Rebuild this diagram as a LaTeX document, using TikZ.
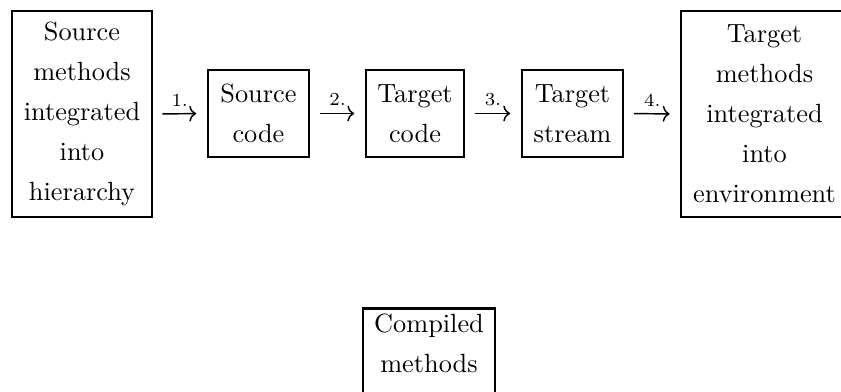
\documentclass[tikz,border=0pt]{standalone}
\usetikzlibrary{arrows.meta}
\begin{document}
\begin{tikzpicture}[x=0.38pt,y=-0.38pt,
  txt/.style={font=\fontsize{10}{15.2}\selectfont, align=center, inner sep=2pt},
  bigbox/.style={txt, draw, line width=0.6pt, minimum height=78.3pt},
  smallbox/.style={txt, draw, line width=1pt, minimum height=33.1pt},
  arr/.style={-{To[length=2.6pt,width=6pt]}, line width=0.55pt, shorten <=3.6pt, shorten >=4pt},
  lab/.style={font=\fontsize{7}{8}\selectfont, inner sep=1pt, above=1.6pt}]
\useasboundingbox (0,0) rectangle (841,391);
\clip (0,0) rectangle (841,391);
\node[bigbox, minimum width=53.2pt] (src) at (82,114) {Source\\methods\\integrated\\into\\hierarchy};
\node[smallbox, minimum width=38.4pt] (scode) at (258.5,113.5) {Source\\code};
\node[smallbox, minimum width=37.2pt] (tcode) at (415,113.5) {Target\\code};
\node[smallbox, minimum width=38.4pt] (tstream) at (572.5,113.5) {Target\\stream};
\node[bigbox, minimum width=63.5pt] (tgt) at (764.5,114) {Target\\methods\\integrated\\into\\environment};
\node[smallbox, anchor=north, minimum width=50.2pt, minimum height=38pt] (comp) at (429,307) {};
\node[txt] (comptxt) at (429,343) {Compiled\\methods};
\draw[arr] (src.east) -- node[lab] {1.} (scode.west);
\draw[arr] (scode.east) -- node[lab] {2.} (tcode.west);
\draw[arr] (tcode.east) -- node[lab] {3.} (tstream.west);
\draw[arr] (tstream.east) -- node[lab] {4.} (tgt.west);
\end{tikzpicture}
\end{document}
